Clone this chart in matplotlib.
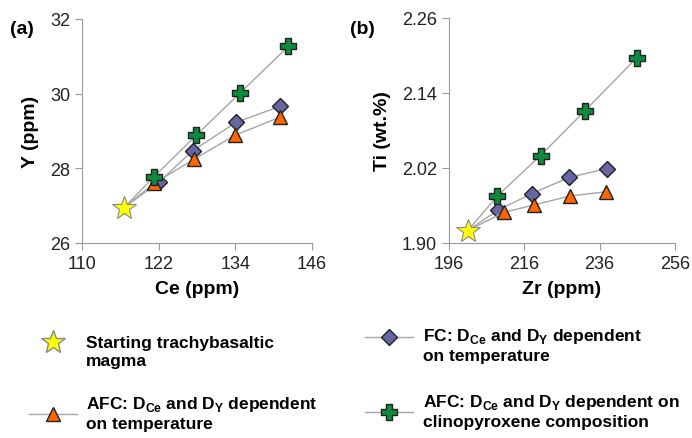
import matplotlib.pyplot as plt
from matplotlib.lines import Line2D
from matplotlib.path import Path

# data
ce_start, y_start = 116.6, 26.95
zr_start, ti_start = 201.0, 1.920

ce_fc = [122.1, 127.3, 134.1, 141.0]
y_fc = [27.64, 28.47, 29.23, 29.66]
ce_afc_t = [121.3, 127.6, 134.0, 141.0]
y_afc_t = [27.60, 28.25, 28.89, 29.37]
ce_afc_cpx = [121.3, 127.9, 134.7, 142.3]
y_afc_cpx = [27.78, 28.89, 30.01, 31.27]

zr_fc = [209.1, 218.0, 227.9, 238.0]
ti_fc = [1.953, 1.979, 2.005, 2.019]
zr_afc_t = [210.6, 218.6, 228.0, 237.6]
ti_afc_t = [1.949, 1.961, 1.975, 1.982]
zr_afc_cpx = [208.8, 220.3, 232.0, 245.8]
ti_afc_cpx = [1.975, 2.040, 2.111, 2.196]

labels = ['Starting trachybasaltic\nmagma',
          'FC: D$_{\\mathbf{Ce}}$ and D$_{\\mathbf{Y}}$ dependent\non temperature',
          'AFC: D$_{\\mathbf{Ce}}$ and D$_{\\mathbf{Y}}$ dependent\non temperature',
          'AFC: D$_{\\mathbf{Ce}}$ and D$_{\\mathbf{Y}}$ dependent on\nclinopyroxene composition']

plt.rcParams['font.family'] = ['Liberation Sans', 'DejaVu Sans']
plt.rcParams['mathtext.fontset'] = 'custom'
plt.rcParams['mathtext.bf'] = 'Liberation Sans:bold'
plt.rcParams['mathtext.rm'] = 'Liberation Sans'

# fat plus marker (like the Excel one)
a = 0.42
fat_plus = Path([(-a, 1), (a, 1), (a, a), (1, a), (1, -a), (a, -a), (a, -1),
                 (-a, -1), (-a, -a), (-1, -a), (-1, a), (-a, a), (-a, 1)])

line_c = '#a6a6a6'
styles = {
    'fc': dict(marker='D', markersize=8, markerfacecolor='#6666a3', markeredgecolor='#222222'),
    'afc_t': dict(marker='^', markersize=10, markerfacecolor='#ff6600', markeredgecolor='#222222'),
    'afc_cpx': dict(marker=fat_plus, markersize=11, markerfacecolor='#0d8a3e', markeredgecolor='#222222'),
    'start': dict(marker='*', markersize=18, markerfacecolor='#ffff00', markeredgecolor='#888888'),
}

fig = plt.figure(figsize=(6.92, 4.39), dpi=100)
ax1 = fig.add_axes([82/692, 1-244/439, 230/692, 224/439])
ax2 = fig.add_axes([449/692, 1-244/439, 226/692, 225/439])


def draw(ax, x0, y0, series):
    for key, xs, ys in series:
        ax.plot([x0] + xs, [y0] + ys, color=line_c, lw=1, markevery=list(range(1, len(xs) + 1)),
                markeredgewidth=1, **styles[key])
    ax.plot([x0], [y0], color=line_c, lw=0, markeredgewidth=0.8, **styles['start'])
    for s in ['top', 'right']:
        ax.spines[s].set_visible(False)
    for s in ['left', 'bottom']:
        ax.spines[s].set_color('#999999')
    ax.tick_params(colors='#999999', labelcolor='#222222', labelsize=13, direction='out', length=5)


draw(ax1, ce_start, y_start, [('fc', ce_fc, y_fc), ('afc_t', ce_afc_t, y_afc_t),
                              ('afc_cpx', ce_afc_cpx, y_afc_cpx)])
ax1.set_xlim(110, 146)
ax1.set_ylim(26, 32)
ax1.set_xticks([110, 122, 134, 146])
ax1.set_yticks([26, 28, 30, 32])
ax1.set_xlabel('Ce (ppm)', fontsize=14, fontweight='bold', labelpad=6)
ax1.set_ylabel('Y (ppm)', fontsize=14, fontweight='bold', labelpad=8)

draw(ax2, zr_start, ti_start, [('fc', zr_fc, ti_fc), ('afc_t', zr_afc_t, ti_afc_t),
                               ('afc_cpx', zr_afc_cpx, ti_afc_cpx)])
ax2.set_xlim(196, 256)
ax2.set_ylim(1.90, 2.26)
ax2.set_xticks([196, 216, 236, 256])
ax2.set_yticks([1.90, 2.02, 2.14, 2.26])
ax2.set_yticklabels(['1.90', '2.02', '2.14', '2.26'])
ax2.set_xlabel('Zr (ppm)', fontsize=14, fontweight='bold', labelpad=6)
ax2.set_ylabel('Ti (wt.%)', fontsize=14, fontweight='bold', labelpad=8)

fig.text(10/692, 1-30/439, '(a)', fontsize=14, fontweight='bold', va='center')
fig.text(350/692, 1-30/439, '(b)', fontsize=14, fontweight='bold', va='center')

# legend drawn by hand below the panels: (key, marker x, marker y, text x, text y) in pixels
leg = [('start', 53, 343, 86, 353),
       ('fc', 389, 338, 423, 346),
       ('afc_t', 53, 415, 86, 414),
       ('afc_cpx', 389, 413, 423, 412)]
for (key, mx, my, tx, ty), lab in zip(leg, labels):
    fx, fy = mx/692, 1-my/439
    if key != 'start':
        fig.add_artist(Line2D([fx-24/692, fx+24/692], [fy, fy], color=line_c, lw=1,
                              transform=fig.transFigure))
    fig.add_artist(Line2D([fx], [fy], lw=0, transform=fig.transFigure, markeredgewidth=1, **styles[key]))
    fig.text(tx/692, 1-ty/439, lab, fontsize=12.5, fontweight='bold',
             va='center', ha='left', linespacing=1.25)

fig.savefig('out.png', dpi=100)
